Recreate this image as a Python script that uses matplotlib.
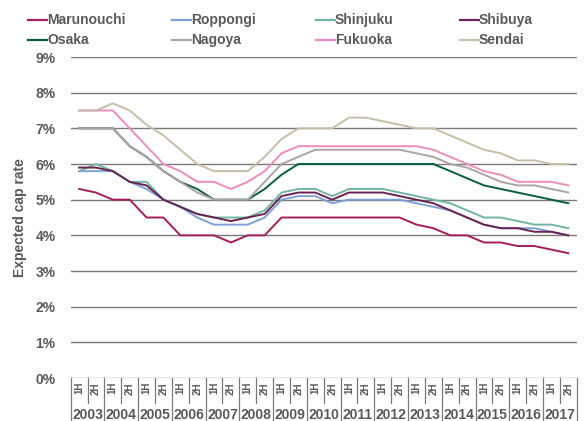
import numpy as np
import matplotlib
matplotlib.use("Agg")
import matplotlib.pyplot as plt
from matplotlib.lines import Line2D

plt.rcParams['font.family'] = ['Liberation Sans', 'DejaVu Sans']
plt.rcParams['font.weight'] = 'bold'

# Data (expected cap rate, %), 1H 2003 .. 2H 2017
years = [str(y) for y in range(2003, 2018)]
halves = ["1H", "2H"]

marunouchi = [5.3, 5.2, 5.0, 5.0, 4.5, 4.5, 4.0, 4.0, 4.0, 3.8,
              4.0, 4.0, 4.5, 4.5, 4.5, 4.5, 4.5, 4.5, 4.5, 4.5,
              4.3, 4.2, 4.0, 4.0, 3.8, 3.8, 3.7, 3.7, 3.6, 3.5]
roppongi = [5.8, 5.8, 5.8, 5.5, 5.3, 5.0, 4.8, 4.5, 4.3, 4.3,
            4.3, 4.5, 5.0, 5.1, 5.1, 4.9, 5.0, 5.0, 5.0, 5.0,
            4.9, 4.8, 4.7, 4.5, 4.3, 4.2, 4.2, 4.2, 4.1, 4.0]
shinjuku = [5.8, 6.0, 5.8, 5.5, 5.5, 5.0, 4.8, 4.6, 4.5, 4.5,
            4.5, 4.7, 5.2, 5.3, 5.3, 5.1, 5.3, 5.3, 5.3, 5.2,
            5.1, 5.0, 4.9, 4.7, 4.5, 4.5, 4.4, 4.3, 4.3, 4.2]
shibuya = [5.9, 5.9, 5.8, 5.5, 5.4, 5.0, 4.8, 4.6, 4.5, 4.4,
           4.5, 4.6, 5.1, 5.2, 5.2, 5.0, 5.2, 5.2, 5.2, 5.1,
           5.0, 4.9, 4.7, 4.5, 4.3, 4.2, 4.2, 4.1, 4.1, 4.0]
osaka = [7.0, 7.0, 7.0, 6.5, 6.2, 5.8, 5.5, 5.3, 5.0, 5.0,
         5.0, 5.3, 5.7, 6.0, 6.0, 6.0, 6.0, 6.0, 6.0, 6.0,
         6.0, 6.0, 5.8, 5.6, 5.4, 5.3, 5.2, 5.1, 5.0, 4.9]
nagoya = [7.0, 7.0, 7.0, 6.5, 6.2, 5.8, 5.5, 5.2, 5.0, 5.0,
          5.0, 5.5, 6.0, 6.2, 6.4, 6.4, 6.4, 6.4, 6.4, 6.4,
          6.3, 6.2, 6.0, 5.9, 5.7, 5.5, 5.4, 5.4, 5.3, 5.2]
fukuoka = [7.5, 7.5, 7.5, 7.0, 6.5, 6.0, 5.8, 5.5, 5.5, 5.3,
           5.5, 5.8, 6.3, 6.5, 6.5, 6.5, 6.5, 6.5, 6.5, 6.5,
           6.5, 6.4, 6.2, 6.0, 5.8, 5.7, 5.5, 5.5, 5.5, 5.4]
sendai = [7.5, 7.5, 7.7, 7.5, 7.1, 6.8, 6.4, 6.0, 5.8, 5.8,
          5.8, 6.2, 6.7, 7.0, 7.0, 7.0, 7.3, 7.3, 7.2, 7.1,
          7.0, 7.0, 6.8, 6.6, 6.4, 6.3, 6.1, 6.1, 6.0, 6.0]

names = ["Marunouchi", "Roppongi", "Shinjuku", "Shibuya",
         "Osaka", "Nagoya", "Fukuoka", "Sendai"]
series = [marunouchi, roppongi, shinjuku, shibuya, osaka, nagoya, fukuoka, sendai]
colors = ["#a51d5c", "#7f9fd8", "#70b5a6", "#6a2352",
          "#0b5e3c", "#aba5a5", "#ef8cbd", "#c6bea6"]

txt = "#58595b"
W, H = 587, 421

fig = plt.figure(figsize=(W / 100, H / 100), dpi=100)
ax = fig.add_axes([0.1204, 0.1021, 0.8621, 0.7625])

n = len(years) * 2
x = np.arange(n) + 0.5
for name, vals, c in zip(names, series, colors):
    ax.plot(x, vals, color=c, lw=1.4, label=name)

ax.set_xlim(0, n)
ax.set_ylim(0, 9)
ax.set_yticks(range(10))
ax.set_yticklabels(["%d%%" % v for v in range(10)])
ax.tick_params(axis="y", length=0, pad=11, labelsize=10, labelcolor=txt)
ax.set_xticks([])
for s in ax.spines.values():
    s.set_visible(False)
ax.yaxis.grid(True, color="#7a7a7a", lw=1)
ax.set_axisbelow(True)
ax.set_ylabel("Expected cap rate", fontsize=10, color=txt, labelpad=6,
              fontweight="bold")

# category axis drawn as a little table
tr = ax.get_xaxis_transform()
for i in range(n + 1):
    bottom = -0.134 if i % 2 == 0 else -0.078
    ax.plot([i, i], [0, bottom], transform=tr, color="#7a7a7a", lw=0.9, clip_on=False)
for i in range(n):
    ax.text(i + 0.5, -0.032, halves[i % 2], transform=tr, rotation=90,
            ha="center", va="center", fontsize=7, color=txt)
for j, yr in enumerate(years):
    ax.text(2 * j + 1, -0.115, yr, transform=tr, ha="center", va="center",
            fontsize=10, color=txt)

# legend, 4 columns filled row by row
for k, (name, c) in enumerate(zip(names, colors)):
    px = 28 + 144 * (k % 4)
    py = 20 + 20 * (k // 4)
    fig.add_artist(Line2D([px / W, (px + 19) / W], [1 - py / H, 1 - py / H],
                          color=c, lw=1.6, transform=fig.transFigure))
    fig.text((px + 19) / W, 1 - py / H, name, ha="left", va="center",
             fontsize=10, color=txt, fontweight="bold")

fig.savefig("out.png", dpi=100)
